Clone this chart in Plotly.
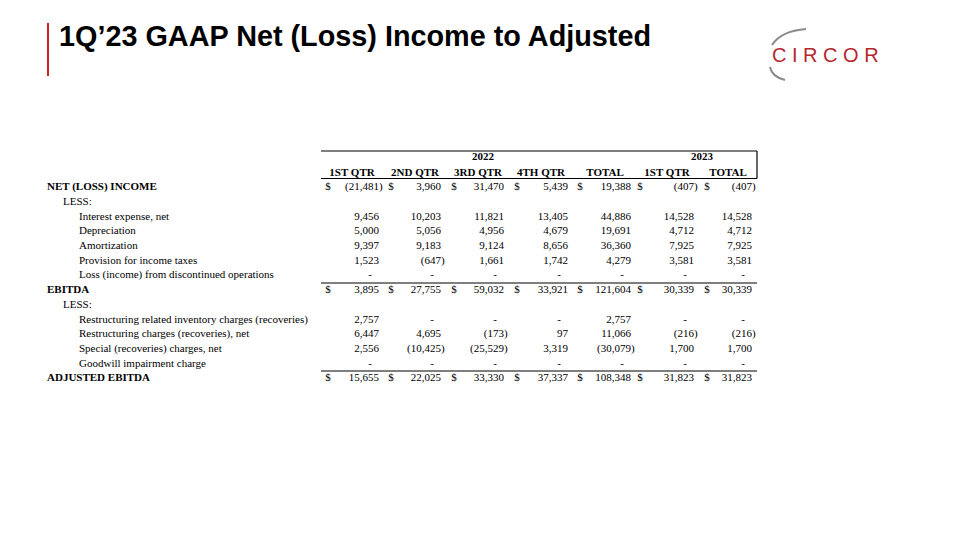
import plotly.graph_objects as go

# ---------------- data ----------------
title_text = "1Q’23 GAAP Net (Loss) Income to Adjusted"
years = ["2022", "2023"]
col_headers = ["1ST QTR", "2ND QTR", "3RD QTR", "4TH QTR", "TOTAL", "1ST QTR", "TOTAL"]

row_labels = [
    "NET (LOSS) INCOME",
    "LESS:",
    "Interest expense, net",
    "Depreciation",
    "Amortization",
    "Provision for income taxes",
    "Loss (income) from discontinued operations",
    "EBITDA",
    "LESS:",
    "Restructuring related inventory charges (recoveries)",
    "Restructuring charges (recoveries), net",
    "Special (recoveries) charges, net",
    "Goodwill impairment charge",
    "ADJUSTED EBITDA",
]
row_level = [0, 1, 2, 2, 2, 2, 2, 0, 1, 2, 2, 2, 2, 0]

net_income = [-21481, 3960, 31470, 5439, 19388, -407, -407]
interest_expense = [9456, 10203, 11821, 13405, 44886, 14528, 14528]
depreciation = [5000, 5056, 4956, 4679, 19691, 4712, 4712]
amortization = [9397, 9183, 9124, 8656, 36360, 7925, 7925]
income_taxes = [1523, -647, 1661, 1742, 4279, 3581, 3581]
discontinued_ops = [0, 0, 0, 0, 0, 0, 0]
ebitda = [3895, 27755, 59032, 33921, 121604, 30339, 30339]
restructuring_inventory = [2757, 0, 0, 0, 2757, 0, 0]
restructuring_charges = [6447, 4695, -173, 97, 11066, -216, -216]
special_charges = [2556, -10425, -25529, 3319, -30079, 1700, 1700]
goodwill_impairment = [0, 0, 0, 0, 0, 0, 0]
adjusted_ebitda = [15655, 22025, 33330, 37337, 108348, 31823, 31823]

row_values = [net_income, None, interest_expense, depreciation, amortization,
              income_taxes, discontinued_ops, ebitda, None,
              restructuring_inventory, restructuring_charges, special_charges,
              goodwill_impairment, adjusted_ebitda]
dollar_rows = [0, 7, 13]
bold_rows = [0, 7, 13]

# ---------------- layout / style ----------------
W, H = 960, 540
PAGE_OFF = 8  # default page body margin
SERIF = "Liberation Serif"
FS = 11
row_y0, row_step = 187.5, 14.7
col_right = [379, 441, 504, 568, 631, 694, 752]
dollar_x = [328, 391, 454, 517, 580, 640, 707]
header_x = [352, 415, 478, 541, 605, 667, 728]
year_x = [483, 702]
year_y, header_y = 157.5, 173
label_x0, label_indent = 47, 16
paren_pad, dash_pad = 3.6, 7

def fmt(v):
    if v == 0:
        return "-"
    if v < 0:
        return "({:,})".format(-v)
    return "{:,}".format(v)

row_y = [row_y0 + i * row_step for i in range(len(row_labels))]

fig = go.Figure()

# row labels
fig.add_trace(go.Scatter(
    x=[label_x0 + label_indent * lv for lv in row_level],
    y=row_y,
    text=[("<b>%s</b>" % t) if i in bold_rows else t for i, t in enumerate(row_labels)],
    mode="text", textposition="middle right",
    textfont=dict(family=SERIF, size=FS, color="#000"),
    cliponaxis=False, hoverinfo="skip"))

# numeric columns
for j in range(len(col_headers)):
    xs, ys, ts = [], [], []
    for i, vals in enumerate(row_values):
        if vals is None:
            continue
        v = vals[j]
        x = col_right[j]
        if v < 0:
            x += paren_pad
        elif v == 0:
            x -= dash_pad
        xs.append(x)
        ys.append(row_y[i])
        ts.append(fmt(v))
    fig.add_trace(go.Scatter(
        x=xs, y=ys, text=ts, mode="text", textposition="middle left",
        textfont=dict(family=SERIF, size=FS, color="#000"),
        cliponaxis=False, hoverinfo="skip"))

# dollar signs
dx, dy = [], []
for i in dollar_rows:
    for j in range(len(col_headers)):
        dx.append(dollar_x[j])
        dy.append(row_y[i])
fig.add_trace(go.Scatter(
    x=dx, y=dy, text=["$"] * len(dx), mode="text", textposition="middle center",
    textfont=dict(family=SERIF, size=FS, color="#000"),
    cliponaxis=False, hoverinfo="skip"))

# headers
fig.add_trace(go.Scatter(
    x=header_x + year_x,
    y=[header_y] * len(header_x) + [year_y] * len(year_x),
    text=["<b>%s</b>" % h for h in col_headers + years],
    mode="text", textposition="middle center",
    textfont=dict(family=SERIF, size=FS, color="#000"),
    cliponaxis=False, hoverinfo="skip"))

# table rules
tbl_left, tbl_right = 321, 757
line = dict(color="#000", width=1.2)
shapes = [
    dict(type="line", x0=tbl_left, x1=tbl_right, y0=151, y1=151, line=line),
    dict(type="line", x0=tbl_right, x1=tbl_right, y0=151, y1=178.5, line=line),
    dict(type="line", x0=tbl_left, x1=tbl_right, y0=178.5, y1=178.5, line=line),
    dict(type="line", x0=tbl_left, x1=tbl_right, y0=283, y1=283, line=line),
    dict(type="line", x0=tbl_left, x1=tbl_right, y0=371, y1=371, line=line),
    # title accent bar
    dict(type="line", x0=48, x1=48, y0=23, y1=76, line=dict(color="#d0202a", width=2)),
    # logo swooshes
    dict(type="path", path="M 772,45 Q 781,31 806,29", line=dict(color="#8a8a8a", width=2)),
    dict(type="path", path="M 770,67 Q 772,77 785,80", line=dict(color="#8a8a8a", width=2)),
]

annotations = [
    dict(x=57, y=36, xref="x", yref="y", text="<b>%s</b>" % title_text,
         showarrow=False, xanchor="left", yanchor="middle",
         font=dict(family="Liberation Sans", size=28.8, color="#000")),
    dict(x=825, y=55, xref="x", yref="y", text="C I R C O R",
         showarrow=False, xanchor="center", yanchor="middle",
         font=dict(family="Liberation Sans", size=20, color="#b5272d")),
]

fig.update_layout(
    width=W, height=H, margin=dict(l=0, r=0, t=0, b=0),
    paper_bgcolor="white", plot_bgcolor="white", showlegend=False,
    xaxis=dict(range=[PAGE_OFF, W + PAGE_OFF], visible=False, fixedrange=True),
    yaxis=dict(range=[H + PAGE_OFF, PAGE_OFF], visible=False, fixedrange=True),
    shapes=shapes, annotations=annotations,
)

fig.write_html("out.html")
